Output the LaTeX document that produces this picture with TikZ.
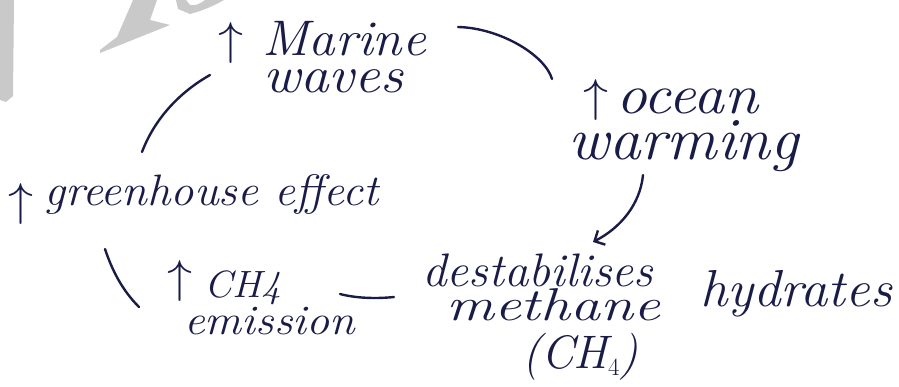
\documentclass[tikz,border=0pt]{standalone}
\usepackage{fontspec}
\usetikzlibrary{arrows.meta}
\definecolor{ink}{HTML}{1A1C48}
\definecolor{stampgray}{HTML}{C9C9C9}
\newcommand{\fs}[1]{\fontsize{#1}{#1}\selectfont\itshape}
\newcommand{\rise}{\scalebox{5}[4.6]{$\uparrow$}}
\tikzset{
  hand/.style={text=ink, inner sep=0pt, anchor=base west},
  upmark/.style={text=ink, inner sep=0pt, anchor=center},
  low/.style={text height=0.5em},
  flat/.style={text depth=0pt},
  link/.style={draw=ink, line width=2.4pt, line cap=round},
  stamp/.style={fill=stampgray},
}
\begin{document}
\begin{tikzpicture}[x=1pt, y=-1pt]
  \path[use as bounding box, fill=white] (0,0) rectangle (899,387);

  % faded stamp in the upper left corner
  \fill[stamp] (0,0) -- (14,0) -- (13,96) -- (6,102) -- (0,100) -- cycle;
  \fill[stamp] (100,53) -- (170,25) -- (150,20) -- (157,0) -- (133,0)
              -- (117,37) -- (100,50) -- cycle;
  \fill[stamp] (176,0) -- (178,9) -- (190,14)
              .. controls (205,10) and (215,5) .. (224,0) -- (205,0)
              .. controls (200,4) and (195,6) .. (190,5) -- (186,0) -- cycle;

  % marine waves
  \node[upmark] (upA) at (231,43) {\rise};
  \node[hand, flat, font=\fs{50}] (mw1) at (262,56) {\scalebox{1.06}[1]{Marine}};
  \node[hand, low, font=\fs{52}] (mw2) at (263,93) {\scalebox{1.1}[1]{waves}};

  % ocean warming
  \node[upmark] (upB) at (596,100) {\rise};
  \node[hand, flat, low, font=\fs{56}] (ow1) at (616,114) {\scalebox{1.1}[1]{ocean}};
  \node[hand, low, font=\fs{60}] (ow2) at (568,160) {\scalebox{1.05}[1]{warming}};

  % methane hydrates
  \node[hand, flat, font=\fs{47}] (dh1) at (422,287) {\scalebox{1.04}[1]{destabilises}};
  \node[hand, flat, font=\fs{46}] (dh2) at (446,320) {\scalebox{1.3}[1]{methane}};
  \node[hand, font=\fs{52}] (dh3) at (700,306) {\scalebox{1.05}[1]{hydrates}};
  \node[hand, font=\fs{47}] (dh4) at (522,368) {(CH$_4$)};

  % methane emission
  \node[upmark] (upC) at (180,281) {\rise};
  \node[hand, flat, font=\fs{38}] (ce1) at (204,298) {\scalebox{1.05}[1]{CH4}};
  \node[hand, low, font=\fs{42}] (ce2) at (184,334) {\scalebox{1.1}[1]{emission}};

  % greenhouse effect
  \node[upmark] (upD) at (21,204) {\rise};
  \node[hand, font=\fs{44}] (ge) at (44,206) {\scalebox{1.06}[1]{greenhouse effect}};

  % links of the loop
  \coordinate (a0) at (142,152); \coordinate (a1) at (210,75);
  \coordinate (b0) at (458,27);  \coordinate (b1) at (552,79);
  \coordinate (c0) at (643,175); \coordinate (c1) at (593,242);
  \coordinate (d0) at (394,297); \coordinate (d1) at (340,294);
  \coordinate (e0) at (139,307); \coordinate (e1) at (105,249);

  \draw[link] (a0) .. controls (155,118) and (180,92) .. (a1);
  \draw[link] (b0) .. controls (500,28) and (545,55) .. (b1);
  \draw[link, -{Straight Barb[length=8pt, width=16pt]}]
        (c0) .. controls (640,205) and (620,228) .. (c1);
  \draw[link] (d0) .. controls (375,299) and (355,298) .. (d1);
  \draw[link] (e0) .. controls (122,290) and (112,270) .. (e1);
\end{tikzpicture}
\end{document}
